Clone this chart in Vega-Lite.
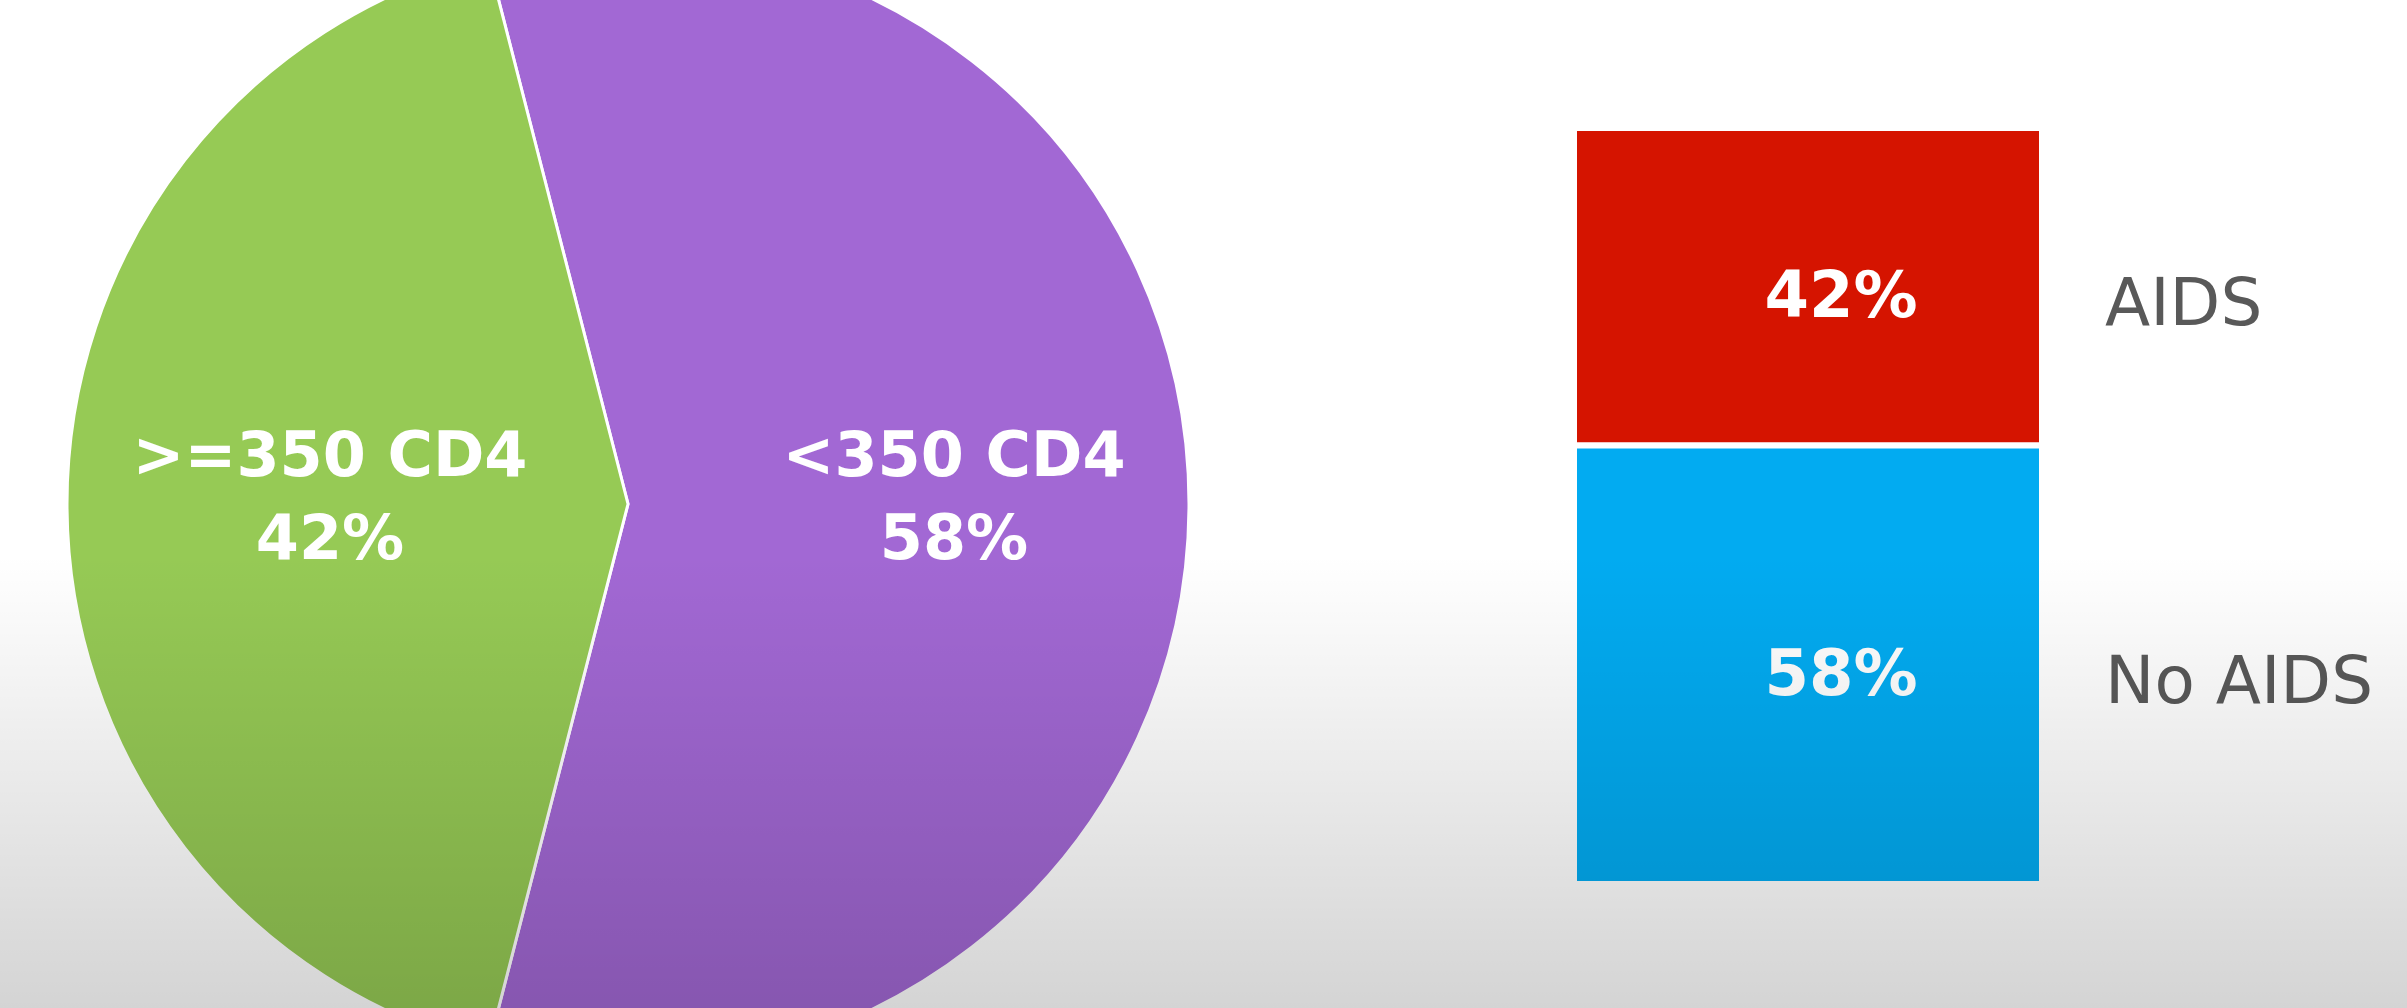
{
  "$schema": "https://vega.github.io/schema/vega-lite/v6.json",
  "padding": 0,
  "background": "#ffffff",
  "spacing": 0,
  "config": {"view": {"stroke": null}, "font": "DejaVu Sans"},
  "resolve": {"scale": {"color": "independent"}},
  "datasets": {
    "cd4": [
      {"group": "<350 CD4", "share": 58, "label": "<350 CD4\n58%"},
      {"group": ">=350 CD4", "share": 42, "label": ">=350 CD4\n42%"}
    ],
    "aids": [
      {"cd4": "<350 CD4", "status": "AIDS", "share": 42, "pct": "42%"},
      {"cd4": "<350 CD4", "status": "No AIDS", "share": 58, "pct": "58%"}
    ],
    "shade": [{"layer": "lighting"}]
  },
  "hconcat": [
    {
      "width": 1256,
      "height": 1008,
      "layer": [
        {
          "data": {"name": "cd4"},
          "mark": {"type": "arc", "outerRadius": 561, "stroke": "#ffffff", "strokeWidth": 3, "clip": true},
          "encoding": {
            "theta": {"field": "share", "type": "quantitative", "stack": true, "scale": {"range": [-0.2513, 6.0319]}},
            "color": {"field": "group", "type": "nominal", "scale": {"domain": ["<350 CD4", ">=350 CD4"], "range": ["#a268d4", "#96ca55"]}, "legend": null}
          }
        },
        {
          "data": {"name": "cd4"},
          "mark": {"type": "text", "radius": 312, "fontSize": 62, "fontWeight": "bold", "fill": "#ffffff", "lineBreak": "\n", "lineHeight": 83, "dx": 14, "dy": -47},
          "encoding": {
            "theta": {"field": "share", "type": "quantitative", "stack": true},
            "detail": {"field": "group"},
            "text": {"field": "label"}
          }
        },
        {
          "data": {"name": "shade"},
          "mark": {"type": "rect", "fill": {"gradient": "linear", "x1": 0, "y1": 0, "x2": 0, "y2": 1, "stops": [{"offset": 0, "color": "rgba(0,0,0,0)"}, {"offset": 0.55, "color": "rgba(0,0,0,0)"}, {"offset": 1, "color": "rgba(0,0,0,0.17)"}]}},
          "encoding": {}
        }
      ]
    },
    {
      "width": 1151,
      "height": 1008,
      "layer": [
        {
          "data": {"name": "aids"},
          "mark": {"type": "bar", "stroke": "#ffffff", "strokeWidth": 6},
          "encoding": {
            "x": {"field": "cd4", "type": "nominal", "axis": null, "scale": {"paddingInner": 0, "paddingOuter": 0.7297, "align": 0.4656}},
            "y": {"field": "share", "type": "quantitative", "stack": "zero", "axis": null, "scale": {"domain": [-16.4, 116.93], "nice": false, "zero": false}},
            "color": {"field": "status", "type": "nominal", "scale": {"domain": ["AIDS", "No AIDS"], "range": ["#d51400", "#02abf1"]}, "legend": null}
          }
        },
        {
          "data": {"name": "aids"},
          "mark": {"type": "text", "fontSize": 64, "fontWeight": "bold", "fill": "#ffffff", "dx": 33, "dy": 11},
          "encoding": {
            "x": {"field": "cd4", "type": "nominal", "axis": null},
            "y": {"field": "share", "type": "quantitative", "stack": "zero", "bandPosition": 0.5, "axis": null},
            "detail": {"field": "status"},
            "text": {"field": "pct"}
          }
        },
        {
          "data": {"name": "aids"},
          "mark": {"type": "text", "fontSize": 66, "fill": "#595959", "align": "left", "dx": 63, "dy": 18},
          "encoding": {
            "x": {"field": "cd4", "type": "nominal", "axis": null, "bandPosition": 1},
            "y": {"field": "share", "type": "quantitative", "stack": "zero", "bandPosition": 0.5, "axis": null},
            "detail": {"field": "status"},
            "text": {"field": "status"}
          }
        },
        {
          "data": {"name": "shade"},
          "mark": {"type": "rect", "fill": {"gradient": "linear", "x1": 0, "y1": 0, "x2": 0, "y2": 1, "stops": [{"offset": 0, "color": "rgba(0,0,0,0)"}, {"offset": 0.55, "color": "rgba(0,0,0,0)"}, {"offset": 1, "color": "rgba(0,0,0,0.17)"}]}},
          "encoding": {}
        }
      ]
    }
  ]
}
